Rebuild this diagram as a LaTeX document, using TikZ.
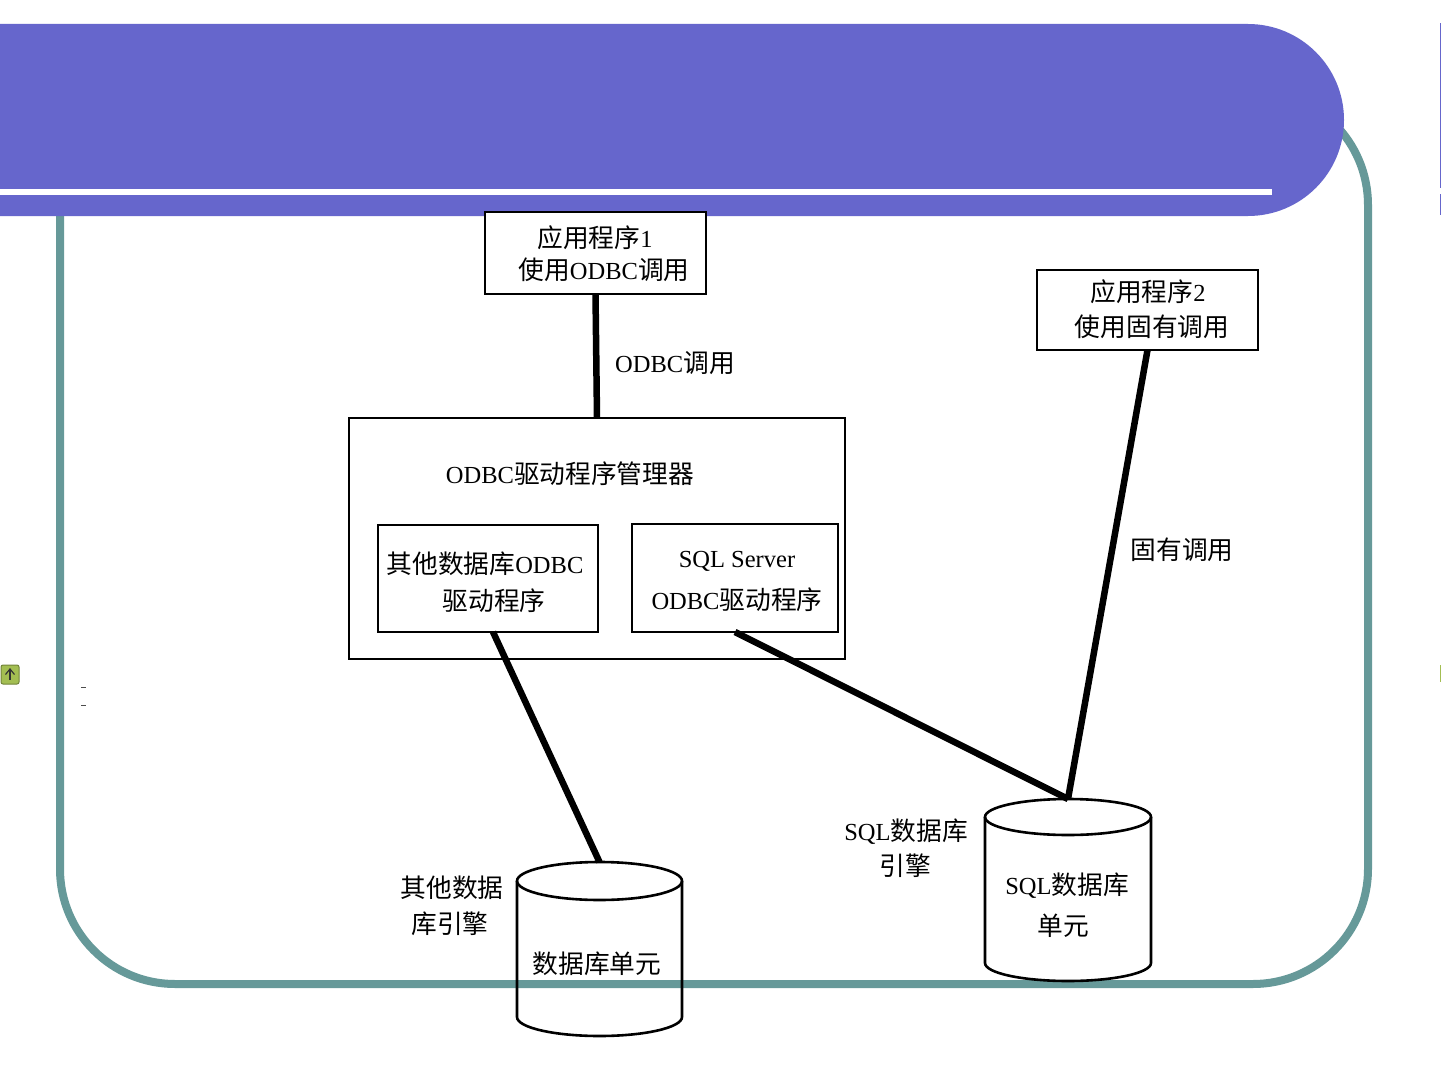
\documentclass[tikz,border=0pt]{standalone}
\usepackage{fontspec}
\setmainfont{Liberation Serif}
\newfontfamily\cjk[Scale=1.05]{Noto Sans CJK SC}
\newcommand{\zh}[1]{{\cjk #1}}
\definecolor{banner}{HTML}{6666CC}
\definecolor{frameteal}{HTML}{669999}
\definecolor{iconfill}{HTML}{A3BE52}
\tikzset{
  lab/.style={inner sep=0pt,font=\fontsize{24.5}{26}\selectfont,text=black},
  boxthin/.style={draw=black,line width=2.4pt,inner sep=0pt,outer sep=0pt},
  hidden/.style={inner sep=0pt,outer sep=0pt},
  link/.style={draw=black,line width=6.5pt},
  cylline/.style={draw=black,line width=2.6pt},
}
\newcommand{\cylbody}[3]{%
  \draw[cylline] ([yshift=-#3pt]#1.north) ellipse[x radius=#2pt,y radius=#3pt];
  \draw[cylline] ([yshift=-#3pt]#1.north west) -- ([yshift=#3pt]#1.south west)
     arc[start angle=180,end angle=360,x radius=#2pt,y radius=#3pt]
     -- ([yshift=-#3pt]#1.north east);
}
\begin{document}
\begin{tikzpicture}[x=1pt,y=-1pt]
\useasboundingbox (0,0) rectangle (1441,1081);
\fill[white] (0,0) rectangle (1441,1081);
% frame
\draw[frameteal,line width=8pt,rounded corners=115pt] (60,90) rectangle (1368,984);
% banner
\fill[banner] (0,24) -- (1248,24) arc[start angle=90,end angle=-90,radius=96pt] -- (0,216) -- cycle;
\fill[white] (0,189) rectangle (1272,195);
% right edge marks
\fill[banner] (1440,23) rectangle (1441,188);
\fill[banner] (1440,194) rectangle (1441,215);
\fill[iconfill] (1440,665) rectangle (1441,682);
% icon
\draw[iconfill!70!black,fill=iconfill,line width=1pt,rounded corners=2pt] (1,665) rectangle (19,684);
\draw[black!80,line width=1.2pt] (5.5,674.5) -- (10,669) -- (14.5,674.5);
\draw[black!80,line width=1.2pt] (10,669) -- (10,680);
% small dashes
\fill[black!70] (81,687) rectangle (86,688);
\fill[black!70] (81,705) rectangle (86,706);
% boxes
\node[boxthin,fill=white,minimum width=221pt,minimum height=82pt] (app1) at (595.5,253) {};
\node[boxthin,minimum width=221pt,minimum height=80pt] (app2) at (1147.5,310) {};
\node[boxthin,minimum width=496pt,minimum height=241pt] (mgr) at (597,538.5) {};
\node[boxthin,minimum width=220pt,minimum height=107pt] (drvA) at (488,578.5) {};
\node[boxthin,minimum width=206pt,minimum height=108pt] (drvB) at (735,578) {};
% cylinders
\node[hidden,minimum width=165pt,minimum height=174pt] (db1) at (599.5,949) {};
\node[hidden,minimum width=166pt,minimum height=182pt] (db2) at (1068,890) {};
\cylbody{db1}{82.5}{19}
\cylbody{db2}{83}{18}
% connectors
\draw[link] (app1.south) -- (mgr.north);
\draw[link] (app2.south) -- (db2.north);
\draw[link] ([xshift=5pt]drvA.south) -- (db1.north);
\draw[link] (drvB.south) -- (db2.north);
% labels
\node[lab] (t1) at (595,238) {\zh{应用程序}1};
\node[lab] (t2) at (604,270) {\zh{使用}ODBC\zh{调用}};
\node[lab] (t3) at (1148,292) {\zh{应用程序}2};
\node[lab] (t4) at (1152,327) {\zh{使用固有调用}};
\node[lab] (t5) at (675,363) {ODBC\zh{调用}};
\node[lab] (t6) at (570,474) {ODBC\zh{驱动程序管理器}};
\node[lab] (t7) at (485,564) {\zh{其他数据库}ODBC};
\node[lab] (t8) at (494,601) {\zh{驱动程序}};
\node[lab] (t9) at (737,561) {SQL Server};
\node[lab] (t10) at (737,600) {ODBC\zh{驱动程序}};
\node[lab] (t11) at (1182,550) {\zh{固有调用}};
\node[lab] (t12) at (906,832) {SQL\zh{数据库}};
\node[lab] (t13) at (905,866) {\zh{引擎}};
\node[lab] (t14) at (452,888) {\zh{其他数据}};
\node[lab] (t15) at (450,924) {\zh{库引擎}};
\node[lab] (t16) at (597,964) {\zh{数据库单元}};
\node[lab] (t17) at (1067,886) {SQL\zh{数据库}};
\node[lab] (t18) at (1063,926) {\zh{单元}};
\end{tikzpicture}
\end{document}
